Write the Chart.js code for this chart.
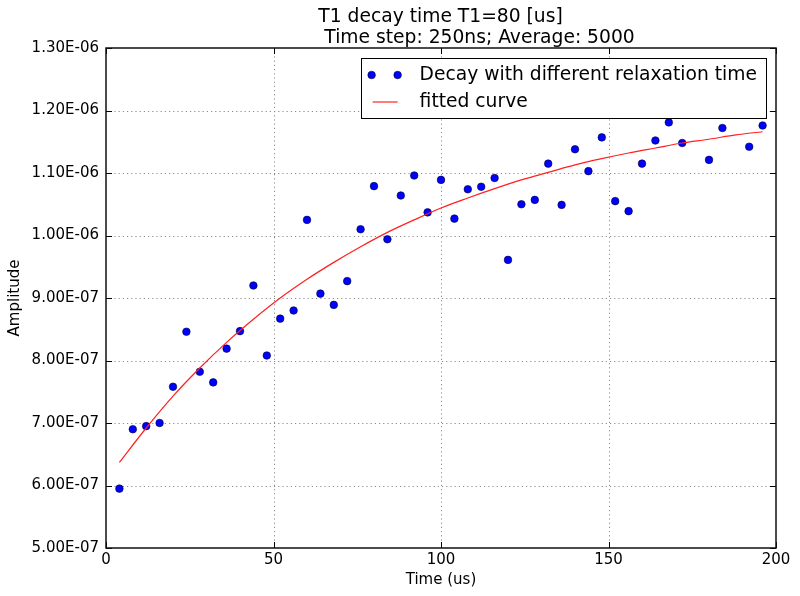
<!DOCTYPE html>
<html>
<head>
<meta charset="utf-8">
<script src="https://cdn.jsdelivr.net/npm/chart.js@4.4.1/dist/chart.umd.min.js"></script>
<style>
  html, body { margin: 0; padding: 0; background: #fff; }
  #wrap { width: 800px; height: 596px; position: relative; }
</style>
</head>
<body>
<div id="wrap"><canvas id="c" width="800" height="596"></canvas></div>
<script>
// ---- data ----
const titleLine1 = 'T1 decay time T1=80 [us]';
const titleLine2 = 'Time step: 250ns; Average: 5000';
const xAxisTitle = 'Time (us)';
const yAxisTitle = 'Amplitude';
const pointsLabel = 'Decay with different relaxation time';
const curveLabel = 'fitted curve';

const pointTimes = [4, 8, 12, 16, 20, 24, 28, 32, 36, 40, 44, 48, 52, 56, 60, 64, 68, 72, 76, 80,
  84, 88, 92, 96, 100, 104, 108, 112, 116, 120, 124, 128, 132, 136, 140, 144, 148, 152, 156, 160,
  164, 168, 172, 180, 184, 192, 196];
const pointAmps = [5.95e-7, 6.90e-7, 6.95e-7, 7.00e-7, 7.58e-7, 8.46e-7, 7.82e-7, 7.65e-7, 8.19e-7, 8.47e-7,
  9.20e-7, 8.08e-7, 8.67e-7, 8.80e-7, 1.025e-6, 9.07e-7, 8.89e-7, 9.27e-7, 1.010e-6, 1.079e-6,
  9.94e-7, 1.064e-6, 1.096e-6, 1.037e-6, 1.089e-6, 1.027e-6, 1.074e-6, 1.078e-6, 1.092e-6, 9.61e-7,
  1.050e-6, 1.057e-6, 1.115e-6, 1.049e-6, 1.138e-6, 1.103e-6, 1.157e-6, 1.055e-6, 1.039e-6, 1.115e-6,
  1.152e-6, 1.181e-6, 1.148e-6, 1.121e-6, 1.172e-6, 1.142e-6, 1.176e-6];

const curveTimes = [4, 12, 20, 28, 36, 44, 52, 60, 68, 76, 84, 92, 100, 108, 116, 124, 132, 140,
  148, 156, 164, 172, 180, 188, 196];
const curveAmps = [6.37e-7, 6.92e-7, 7.43e-7, 7.88e-7, 8.29e-7, 8.66e-7, 9.00e-7, 9.30e-7, 9.57e-7,
  9.82e-7, 1.005e-6, 1.025e-6, 1.044e-6, 1.060e-6, 1.075e-6, 1.089e-6, 1.101e-6, 1.113e-6, 1.123e-6,
  1.132e-6, 1.140e-6, 1.148e-6, 1.154e-6, 1.161e-6, 1.166e-6];

const xTicks = [0, 50, 100, 150, 200];
const yTicks = [5e-7, 6e-7, 7e-7, 8e-7, 9e-7, 1.0e-6, 1.1e-6, 1.2e-6, 1.3e-6];

// ---- helpers ----
function fmtE(v) {
  const s = v.toExponential(2);
  const [m, e] = s.split('e');
  const n = parseInt(e, 10);
  const sign = n < 0 ? '-' : '+';
  const a = Math.abs(n);
  return m + 'E' + sign + (a < 10 ? '0' + a : '' + a);
}
const FONT = '"DejaVu Sans", "Liberation Sans", sans-serif';
const BIG = '18.7px ' + FONT;

const framePlugin = {
  id: 'frame',
  beforeDatasetsDraw(chart) {
    const { ctx, chartArea: a, scales: { x, y } } = chart;
    ctx.save();
    // dotted grid
    ctx.strokeStyle = '#8c8c8c';
    ctx.lineWidth = 1;
    ctx.setLineDash([1.2, 3]);
    xTicks.forEach(t => {
      const px = Math.round(x.getPixelForValue(t)) + 0.5;
      if (px <= a.left + 1 || px >= a.right - 1) return;
      ctx.beginPath(); ctx.moveTo(px, a.top); ctx.lineTo(px, a.bottom); ctx.stroke();
    });
    yTicks.forEach(t => {
      const py = Math.round(y.getPixelForValue(t)) + 0.5;
      if (py <= a.top + 1 || py >= a.bottom - 1) return;
      ctx.beginPath(); ctx.moveTo(a.left, py); ctx.lineTo(a.right, py); ctx.stroke();
    });
    ctx.restore();
  },
  afterDatasetsDraw(chart) {
    const { ctx, chartArea: a, scales: { x, y } } = chart;
    ctx.save();
    ctx.strokeStyle = '#000';
    ctx.lineWidth = 1;
    const L = 6;
    xTicks.forEach(t => {
      const px = Math.round(x.getPixelForValue(t)) + 0.5;
      ctx.beginPath();
      ctx.moveTo(px, a.bottom); ctx.lineTo(px, a.bottom - L);
      ctx.moveTo(px, a.top); ctx.lineTo(px, a.top + L);
      ctx.stroke();
    });
    yTicks.forEach(t => {
      const py = Math.round(y.getPixelForValue(t)) + 0.5;
      ctx.beginPath();
      ctx.moveTo(a.left, py); ctx.lineTo(a.left + L, py);
      ctx.moveTo(a.right, py); ctx.lineTo(a.right - L, py);
      ctx.stroke();
    });
    // frame
    ctx.lineWidth = 1.5;
    ctx.strokeStyle = '#111';
    ctx.strokeRect(a.left, a.top, a.right - a.left, a.bottom - a.top);

    // legend box
    const ds = chart.data.datasets;
    ctx.font = BIG;
    const tw = Math.max(ctx.measureText(ds[1].label).width, ctx.measureText(ds[0].label).width);
    const bw = 59 + tw + 9;
    const bh = 60;
    const bx = a.right - 10 - bw;
    const by = a.top + 10;
    ctx.fillStyle = '#fff';
    ctx.fillRect(bx, by, bw, bh);
    ctx.lineWidth = 1;
    ctx.strokeStyle = '#000';
    ctx.strokeRect(Math.round(bx) + 0.5, Math.round(by) + 0.5, Math.round(bw), bh);
    const r1 = by + 17, r2 = by + 44;
    // points entry
    [bx + 11, bx + 37].forEach(cx => {
      ctx.beginPath();
      ctx.arc(cx, r1, 3.8, 0, Math.PI * 2);
      ctx.fillStyle = '#0000ff';
      ctx.fill();
      ctx.lineWidth = 0.6; ctx.strokeStyle = '#000033'; ctx.stroke();
    });
    // curve entry
    ctx.beginPath();
    ctx.moveTo(bx + 12, r2); ctx.lineTo(bx + 37, r2);
    ctx.lineWidth = 1.2; ctx.strokeStyle = '#ff2020'; ctx.stroke();
    ctx.fillStyle = '#000';
    ctx.textAlign = 'left';
    ctx.textBaseline = 'middle';
    ctx.fillText(ds[1].label, bx + 59, r1);
    ctx.fillText(ds[0].label, bx + 59, r2);

    // titles
    ctx.textAlign = 'center';
    ctx.textBaseline = 'middle';
    ctx.font = BIG;
    ctx.fillText(titleLine1, 440.5, 17);
    ctx.fillText(titleLine2, 479.5, 38);
    ctx.restore();
  }
};

const ctx = document.getElementById('c').getContext('2d');
new Chart(ctx, {
  type: 'scatter',
  data: {
    datasets: [
      {
        label: curveLabel,
        data: curveTimes.map((t, i) => ({ x: t, y: curveAmps[i] })),
        showLine: true,
        borderColor: '#ff2020',
        borderWidth: 1.2,
        pointRadius: 0,
        fill: false,
        cubicInterpolationMode: 'monotone',
        order: 0
      },
      {
        label: pointsLabel,
        data: pointTimes.map((t, i) => ({ x: t, y: pointAmps[i] })),
        showLine: false,
        pointRadius: 3.8,
        pointBackgroundColor: '#0000ff',
        pointBorderColor: '#000033',
        pointBorderWidth: 0.6,
        order: 1
      }
    ]
  },
  options: {
    responsive: false,
    animation: false,
    devicePixelRatio: 1,
    layout: { padding: { top: 48, right: 24, left: 0, bottom: 0 } },
    plugins: {
      legend: { display: false },
      title: { display: false },
      tooltip: { enabled: false }
    },
    scales: {
      x: {
        type: 'linear',
        min: 0, max: 200,
        afterFit(s) { s.height = 48; },
        afterBuildTicks(s) { s.ticks = xTicks.map(v => ({ value: v })); },
        grid: { display: false, drawTicks: false },
        border: { display: false },
        ticks: { color: '#000', font: { family: FONT, size: 15 }, padding: 3, maxRotation: 0 },
        title: { display: true, text: xAxisTitle, color: '#000', font: { family: FONT, size: 15 }, padding: { top: 0, bottom: 7 } }
      },
      y: {
        type: 'linear',
        min: 5e-7, max: 1.3e-6,
        afterFit(s) { s.width = 106; },
        afterBuildTicks(s) { s.ticks = yTicks.map(v => ({ value: v })); },
        grid: { display: false, drawTicks: false },
        border: { display: false },
        ticks: { color: '#000', font: { family: FONT, size: 15 }, padding: 7, callback: v => fmtE(v) },
        title: { display: true, text: yAxisTitle, color: '#000', font: { family: FONT, size: 15 }, padding: { top: 6, bottom: 0 } }
      }
    }
  },
  plugins: [framePlugin]
});
</script>
</body>
</html>
